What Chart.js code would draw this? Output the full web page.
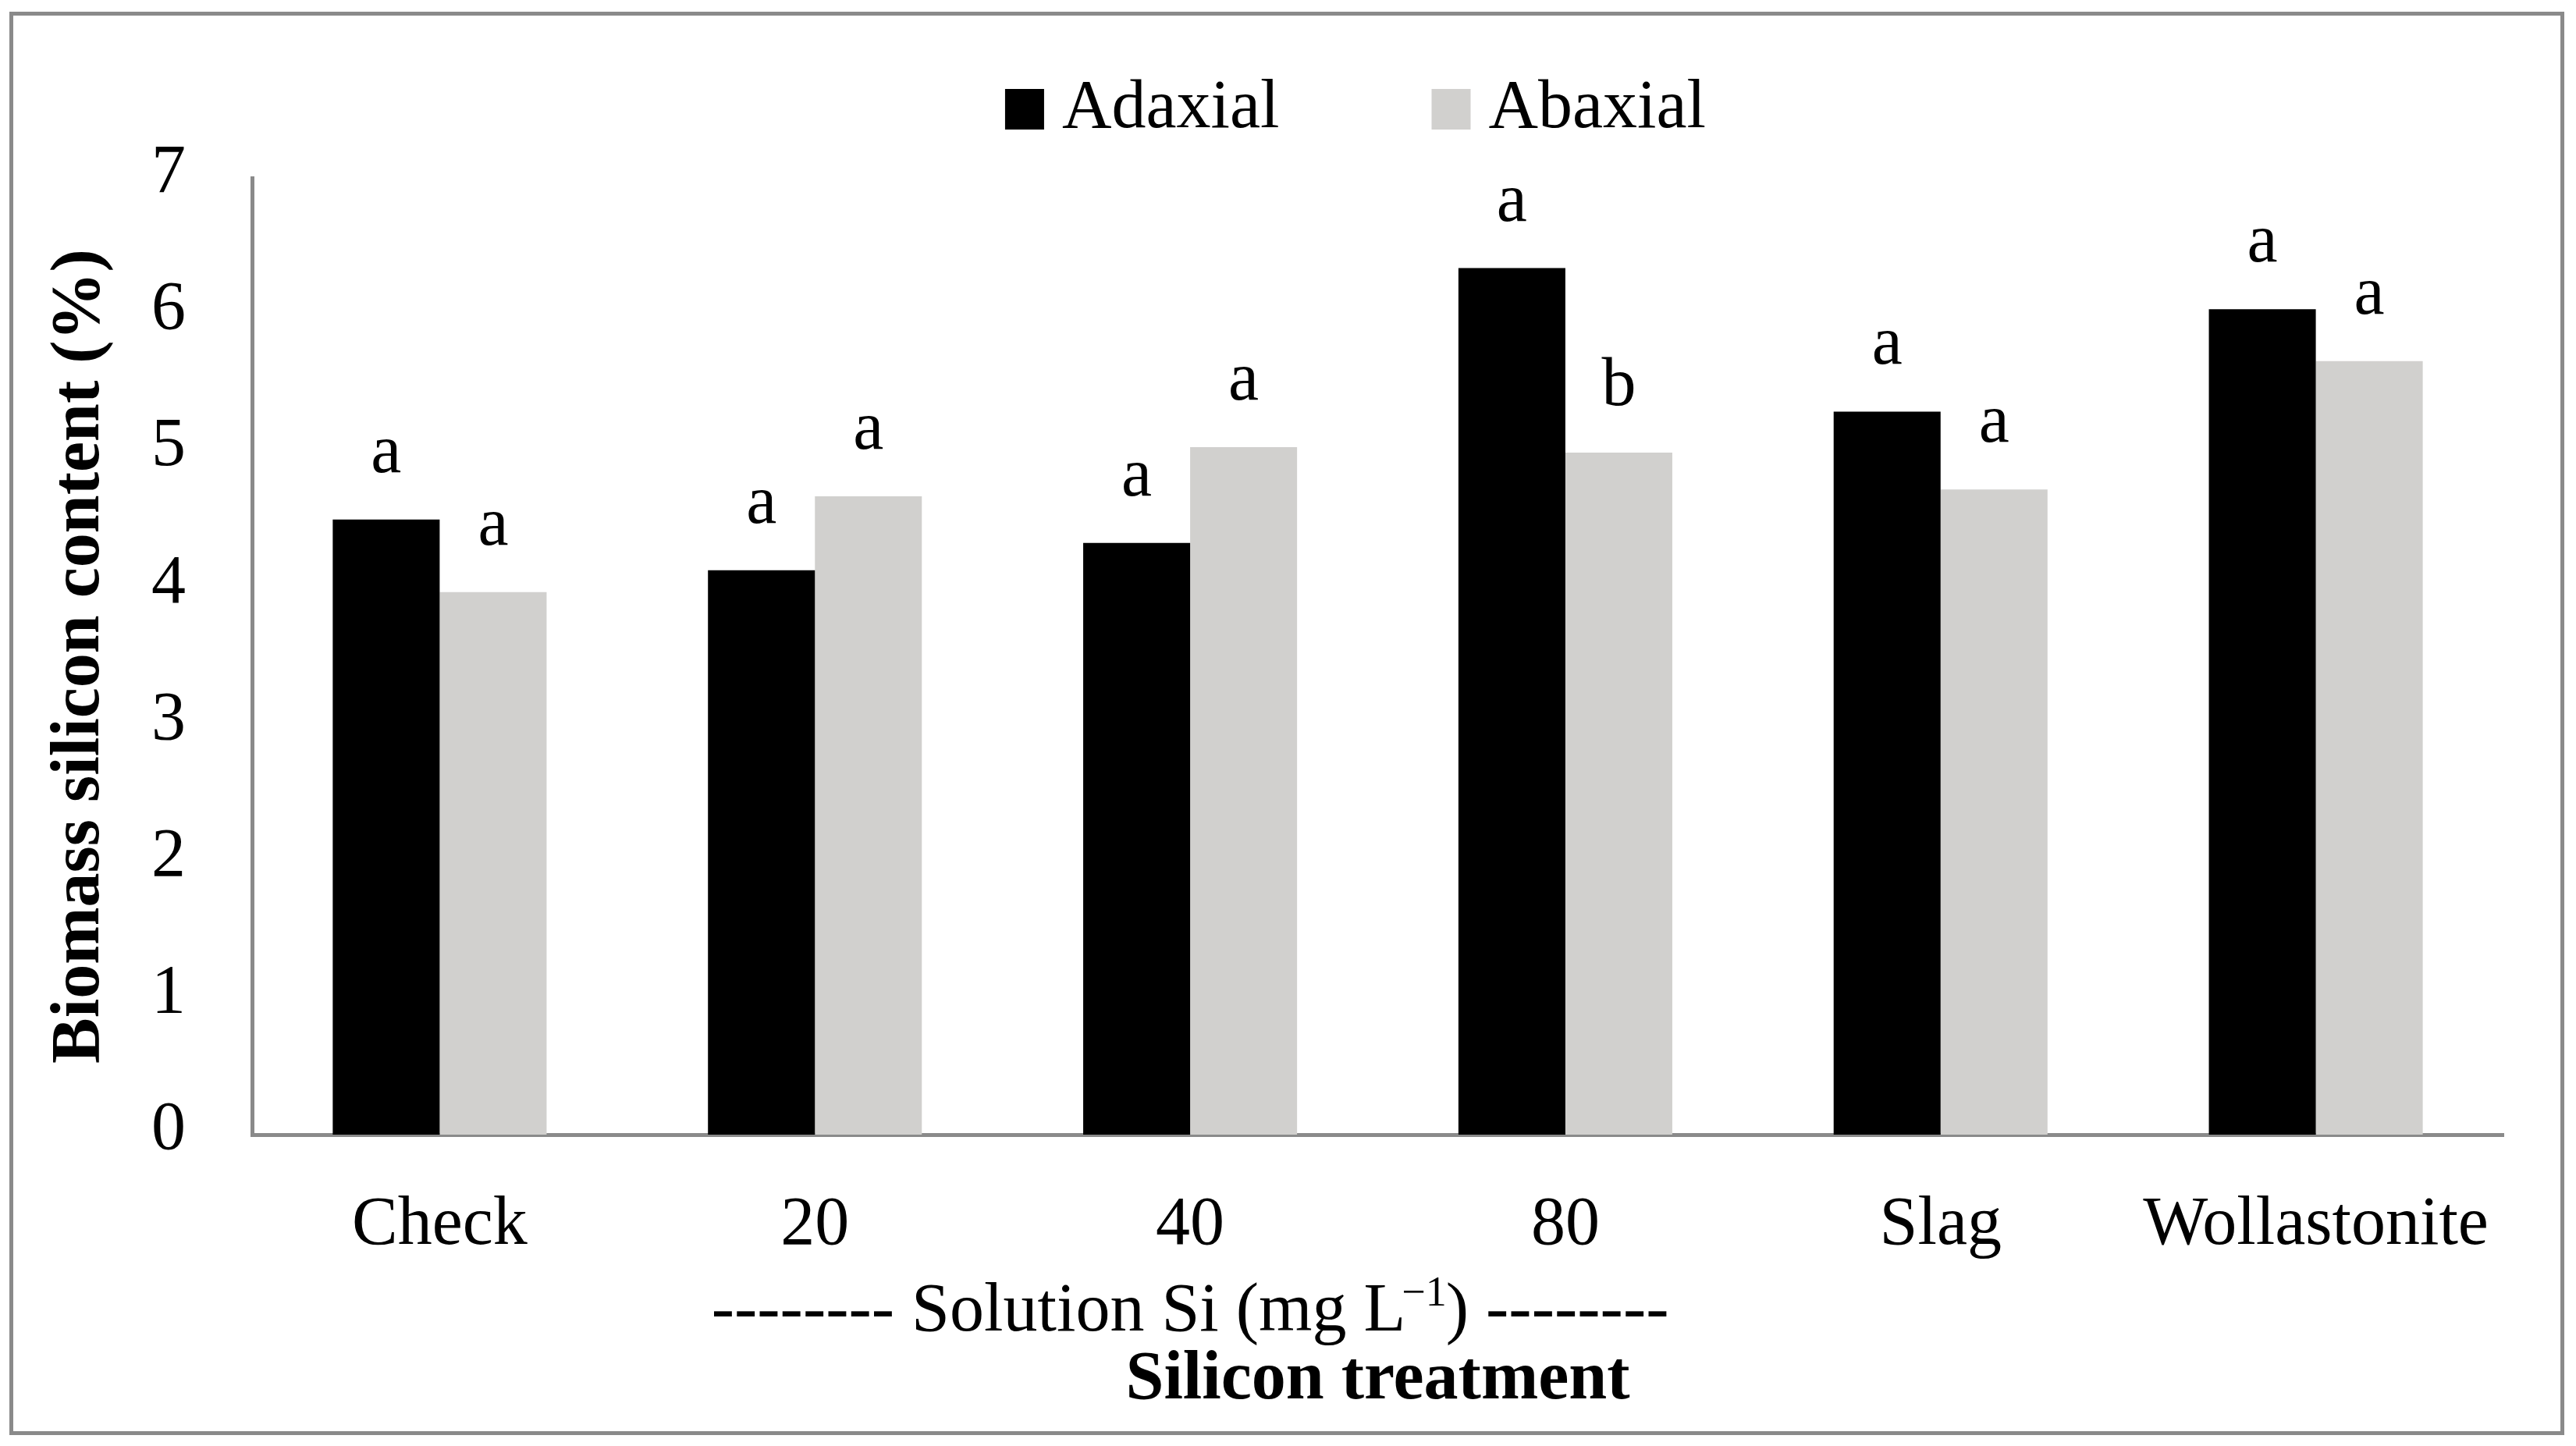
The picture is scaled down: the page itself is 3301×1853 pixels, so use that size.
<!DOCTYPE html>
<html>
<head>
<meta charset="utf-8">
<script src="https://cdn.jsdelivr.net/npm/chart.js@4"></script>
<style>
  html, body { margin: 0; padding: 0; background: #ffffff; }
  canvas { display: block; }
</style>
</head>
<body>
<canvas id="c" width="3301" height="1853"></canvas>
<script>
// ---- data ----
const categories = ['Check', '20', '40', '80', 'Slag', 'Wollastonite'];
const seriesNames = ['Adaxial', 'Abaxial'];
const adaxial = [4.50, 4.13, 4.33, 6.34, 5.29, 6.04];
const abaxial = [3.97, 4.67, 5.03, 4.99, 4.72, 5.66];
const adaxialLetters = ['a', 'a', 'a', 'a', 'a', 'a'];
const abaxialLetters = ['a', 'a', 'a', 'b', 'a', 'a'];
const yMin = 0, yMax = 7, yStep = 1;
const yTitle = 'Biomass silicon content (%)';
const xTitle = 'Silicon treatment';
const groupLabelMain = '-------- Solution Si (mg L';
const groupLabelSup = '\u22121';
const groupLabelEnd = ') --------';

const FONT = "'Liberation Serif', 'Times New Roman', serif";
const AXIS_GRAY = '#8a8a8a';
const BAR_COLORS = ['#000000', '#d1d0ce'];

// outer frame
const framePlugin = {
  id: 'frame',
  beforeDraw(chart) {
    const ctx = chart.ctx;
    ctx.save();
    ctx.fillStyle = '#ffffff';
    ctx.fillRect(0, 0, chart.width, chart.height);
    ctx.strokeStyle = AXIS_GRAY;
    ctx.lineWidth = 5;
    ctx.strokeRect(14.5, 17.5, 3269, 1819);
    ctx.restore();
  }
};

// letters above bars + legend + group label
const annotPlugin = {
  id: 'annot',
  afterDatasetsDraw(chart) {
    const ctx = chart.ctx;
    ctx.save();
    ctx.fillStyle = '#000';
    ctx.font = '88px ' + FONT;
    ctx.textAlign = 'center';
    ctx.textBaseline = 'alphabetic';
    chart.data.datasets.forEach((ds, i) => {
      const meta = chart.getDatasetMeta(i);
      meta.data.forEach((el, j) => {
        const t = ds.letters[j];
        if (t) ctx.fillText(t, el.x, el.y - 61);
      });
    });
    ctx.restore();
  },
  afterDraw(chart) {
    const ctx = chart.ctx;
    const xs = chart.scales.x;
    const area = chart.chartArea;
    ctx.save();
    // legend
    ctx.font = '88px ' + FONT;
    ctx.textBaseline = 'alphabetic';
    ctx.textAlign = 'left';
    const boxW = 50, boxH = 52, textGap = 23, itemGap = 195;
    const items = chart.data.datasets.map(ds => ({ label: ds.label, color: ds.backgroundColor, w: ctx.measureText(ds.label).width }));
    let total = 0;
    items.forEach((it, k) => { total += boxW + textGap + it.w + (k < items.length - 1 ? itemGap : 0); });
    let x = 1737 - total / 2;
    items.forEach(it => {
      ctx.fillStyle = it.color;
      ctx.fillRect(x, 114, boxW, boxH);
      ctx.fillStyle = '#000';
      ctx.fillText(it.label, x + boxW + textGap, 163);
      x += boxW + textGap + it.w + itemGap;
    });
    // group label under the solution categories
    const cx = (xs.getPixelForValue(1) + xs.getPixelForValue(3)) / 2;
    const baseY = area.bottom + 251;
    ctx.font = '88px ' + FONT;
    const w1 = ctx.measureText(groupLabelMain).width;
    const w3 = ctx.measureText(groupLabelEnd).width;
    ctx.font = '54px ' + FONT;
    const w2 = ctx.measureText(groupLabelSup).width;
    let gx = cx - (w1 + w2 + w3 - 6) / 2;
    ctx.fillStyle = '#000';
    ctx.font = '88px ' + FONT;
    ctx.fillText(groupLabelMain, gx, baseY);
    gx += w1 - 5;
    ctx.font = '54px ' + FONT;
    ctx.fillText(groupLabelSup, gx, baseY - 32);
    gx += w2 - 1;
    ctx.font = '88px ' + FONT;
    ctx.fillText(groupLabelEnd, gx, baseY);
    ctx.restore();
  }
};

new Chart(document.getElementById('c'), {
  type: 'bar',
  data: {
    labels: categories,
    datasets: [
      { label: seriesNames[0], data: adaxial, backgroundColor: BAR_COLORS[0], letters: adaxialLetters },
      { label: seriesNames[1], data: abaxial, backgroundColor: BAR_COLORS[1], letters: abaxialLetters }
    ]
  },
  options: {
    responsive: false,
    animation: false,
    devicePixelRatio: 1,
    layout: { padding: { left: 0, top: 228, right: 93, bottom: 0 } },
    datasets: { bar: { categoryPercentage: 0.57, barPercentage: 1.0 } },
    plugins: { legend: { display: false }, tooltip: { enabled: false } },
    scales: {
      x: {
        grid: { display: false, drawTicks: false },
        border: { display: true, color: AXIS_GRAY, width: 5 },
        ticks: { font: { family: FONT, size: 88 }, color: '#000', padding: 64, maxRotation: 0, autoSkip: false },
        title: { display: true, text: xTitle, color: '#000', font: { family: FONT, size: 88, weight: 'bold' }, padding: { top: 0, bottom: 31 } },
        afterFit(s) { s.height = 399; }
      },
      y: {
        min: yMin, max: yMax,
        grid: { display: false, drawTicks: false },
        border: { display: true, color: AXIS_GRAY, width: 5 },
        ticks: { stepSize: yStep, font: { family: FONT, size: 88 }, color: '#000', padding: 85, labelOffset: -5 },
        title: { display: true, text: yTitle, color: '#000', font: { family: FONT, size: 88, weight: 'bold' }, padding: { top: 50, bottom: 0 } },
        afterFit(s) { s.width = 323; }
      }
    }
  },
  plugins: [framePlugin, annotPlugin]
});
</script>
</body>
</html>
